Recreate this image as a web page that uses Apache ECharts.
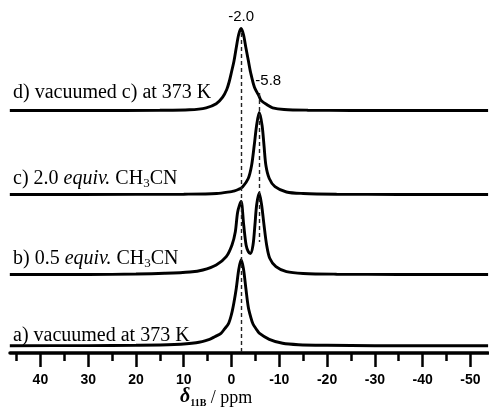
<!DOCTYPE html>
<html>
<head>
<meta charset="utf-8">
<script src="https://cdn.jsdelivr.net/npm/echarts@6/dist/echarts.min.js"></script>
<style>
html,body{margin:0;padding:0;background:#fff}
#main{width:489px;height:408px}
</style>
</head>
<body>
<div id="main"></div>
<script>
// chemical shift (ppm) and height of each trace
var ppmA = [46.4, 30, 20, 12, 7.4, 4.6, 3.5, 2.2, 1.5, 0.6, 0, -0.5, -1, -1.5, -2, -2.5, -3, -3.5, -4, -4.5, -5.2, -5.8, -7.9, -10.7, -14, -20, -30, -53.7];
var intA = [0, 0.1, 0.4, 1.2, 3, 6.4, 9, 12.4, 16.5, 22.4, 31.5, 43, 57.5, 75.7, 86, 77, 57.5, 39, 29, 21.7, 16.5, 12.5, 6.4, 2.4, 1, 0.4, 0, 0];

var ppmB = [46.4, 30, 20, 14, 8.7, 6, 3.2, 1.1, -0.1, -0.8, -1.3, -2, -2.55, -3.05, -3.5, -3.95, -4.5, -4.9, -5.26, -5.8, -6.3, -6.8, -7.35, -8, -9.3, -11.5, -15, -22, -35, -53.7];
var intB = [0, 0, 0.5, 1.2, 2.5, 4.5, 9.5, 17.8, 29.5, 42.8, 62.8, 73, 49.5, 29.5, 23, 21, 29.5, 49.5, 69.5, 81.5, 69.5, 49.5, 29.5, 16.2, 7.8, 2.8, 1, 0.3, 0, 0];

var ppmC = [46.4, 20, 10, 3.1, 0, -0.4, -1.4, -2.3, -3.5, -4.2, -4.75, -5.25, -5.8, -6.4, -6.8, -7.2, -7.9, -9.1, -11.5, -15, -22, -35, -53.7];
var intC = [0, 0.1, 0.3, 1, 2.9, 3.3, 5, 7.6, 16, 29, 49, 69, 82, 69, 49, 29, 16, 7.8, 2.5, 1, 0.3, 0, 0];

var ppmD = [46.4, 30, 15, 8.8, 5.3, 3.2, 1.85, 1, 0.5, 0, -0.5, -1, -1.5, -2, -2.5, -3, -3.5, -4, -4.8, -5.8, -6.2, -7.5, -8.6, -11, -16, -25, -53.7];
var intD = [0, 0, 0.2, 0.7, 2.7, 6.7, 13.3, 21, 28.5, 38.5, 49, 63, 76, 82, 76, 63, 50.5, 38, 23.3, 14, 10, 5.5, 2.7, 1, 0.3, 0, 0];

var majorTicks = [40, 30, 20, 10, 0, -10, -20, -30, -40, -50];
var minorTicks = [45, 35, 25, 15, 5, -5, -15, -25, -35, -45];
var peakShifts = [-2.0, -5.8];
var peakTexts = ['-2.0', '-5.8'];
var traceLabels = [
  '{r|a) vacuumed at 373 K}',
  '{r|b) 0.5 }{i|equiv.}{r| CH}{s|3}{r|CN}',
  '{r|c) 2.0 }{i|equiv.}{r| CH}{s|3}{r|CN}',
  '{r|d) vacuumed c) at 373 K}'
];

var myChart = echarts.init(document.getElementById('main'));

// stacking offsets of the traces (y units = px above axis)
var offsets = [7.3, 78.5, 158.5, 242.5];
var traces = [[ppmA, intA], [ppmB, intB], [ppmC, intC], [ppmD, intD]];
var labelY = [337, 260, 180, 94];

function pairs(ppm, val, base) {
  return ppm.map(function (p, i) { return [p, val[i] + base]; });
}

var series = traces.map(function (t, k) {
  return {
    type: 'line',
    data: pairs(t[0], t[1], offsets[k]),
    symbol: 'none',
    smooth: 0.3,
    lineStyle: {color: '#000', width: 2.9},
    silent: true,
    z: 3
  };
});

series[0].markLine = {
  silent: true,
  symbol: 'none',
  label: {show: false},
  lineStyle: {color: '#222', width: 1.4, type: [4, 3]},
  data: [
    [{coord: [peakShifts[0], 320]}, {coord: [peakShifts[0], 0]}],
    [{coord: [peakShifts[1], 260]}, {coord: [peakShifts[1], 111]}]
  ]
};

var serif = '"Liberation Serif", "Times New Roman", serif';
var sans = '"Liberation Sans", Arial, sans-serif';

var rich = {
  r: {fontFamily: serif, fontSize: 20, verticalAlign: 'bottom', padding: [0, 0, 1, 0]},
  i: {fontFamily: serif, fontStyle: 'italic', fontSize: 20, verticalAlign: 'bottom', padding: [0, 0, 1, 0]},
  s: {fontFamily: serif, fontSize: 13, verticalAlign: 'bottom', padding: [0, 0, 0, 0]}
};

var graphics = traceLabels.map(function (txt, k) {
  return {
    type: 'text',
    left: 13,
    top: labelY[k] - 11,
    style: {
      text: txt,
      fill: '#000',
      rich: rich
    }
  };
});

graphics.push({
  type: 'text',
  left: 180,
  top: 387,
  style: {
    text: '{d|δ}{n|11B}{p| / ppm}',
    fill: '#000',
    rich: {
      d: {fontFamily: serif, fontStyle: 'italic', fontWeight: 'bold', fontSize: 20, verticalAlign: 'bottom', padding: [0, 0, 1, 0]},
      n: {fontFamily: serif, fontWeight: 'bold', fontSize: 10, verticalAlign: 'bottom'},
      p: {fontFamily: serif, fontSize: 18, verticalAlign: 'bottom', padding: [0, 0, 1, 0]}
    }
  }
});

option = {
  animation: false,
  backgroundColor: '#fff',
  grid: {left: 10, right: 1, top: 0, bottom: 55, outerBoundsMode: 'none'},
  xAxis: [{
    type: 'value',
    inverse: true,
    min: -53.68,
    max: 46.36,
    position: 'bottom',
    splitLine: {show: false},
    axisLine: {lineStyle: {color: '#000', width: 3.5}},
    axisTick: {customValues: majorTicks, length: 14, lineStyle: {color: '#000', width: 2.5}},
    axisLabel: {customValues: majorTicks, margin: 20, color: '#000', fontFamily: sans, fontWeight: 'bold', fontSize: 14}
  }, {
    type: 'value',
    inverse: true,
    min: -53.68,
    max: 46.36,
    position: 'bottom',
    splitLine: {show: false},
    axisLine: {show: false},
    axisTick: {customValues: minorTicks, length: 8, lineStyle: {color: '#000', width: 2.5}},
    axisLabel: {show: false}
  }],
  yAxis: {type: 'value', min: 0, max: 353, show: false},
  series: series,
  graphic: graphics
};

myChart.setOption(option);

// peak position labels above the dashed guides
var peakLabels = peakShifts.map(function (p, k) {
  var x = myChart.convertToPixel({xAxisIndex: 0}, p);
  return {
    type: 'text',
    x: x + (k === 0 ? 0 : 9),
    y: k === 0 ? 17 : 80.5,
    style: {
      text: peakTexts[k],
      fontFamily: sans,
      fontSize: 15,
      fill: '#000',
      align: 'center',
      verticalAlign: 'middle'
    }
  };
});
myChart.setOption({graphic: graphics.concat(peakLabels)});
</script>
</body>
</html>
